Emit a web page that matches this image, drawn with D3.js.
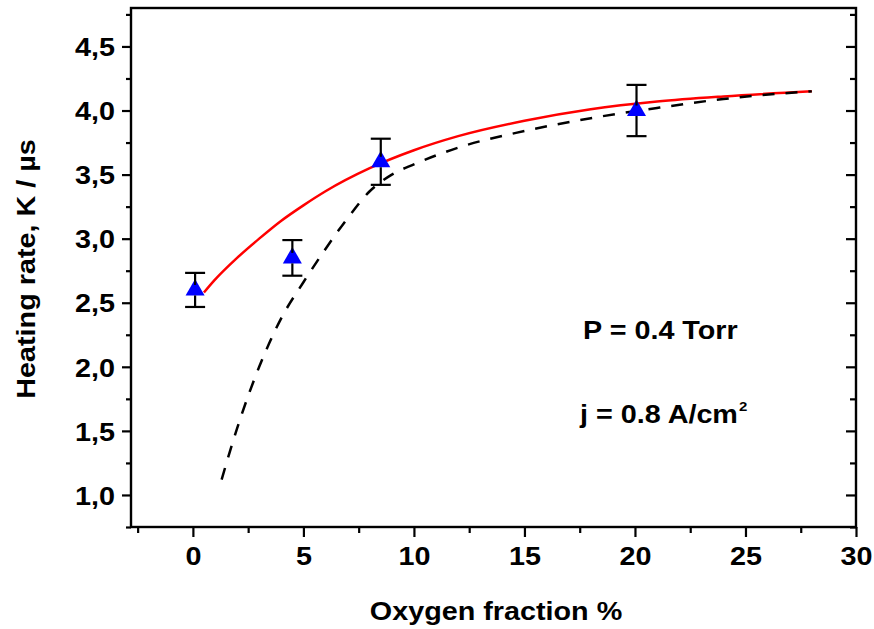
<!DOCTYPE html>
<html>
<head>
<meta charset="utf-8">
<script src="https://cdn.jsdelivr.net/npm/d3@7"></script>
<style>
  html, body { margin: 0; padding: 0; background: #fff; }
  svg { display: block; }
  text { font-family: Arial, "Liberation Sans", sans-serif; font-weight: bold; fill: #000; }
</style>
</head>
<body>
<svg id="chart" width="874" height="629"></svg>
<script>
// Measured heating rate vs oxygen fraction
const oxygenFraction = [0.1, 4.5, 8.5, 20.07];
const heatingRate    = [2.60, 2.85, 3.60, 4.00];
const heatingErr     = [0.133, 0.139, 0.18, 0.20];

// Model curve (solid red)
const modelX = [0.5, 1, 2, 3, 4, 5, 6, 8, 10, 12, 15, 18, 21, 24, 28];
const modelY = [2.58, 2.68, 2.85, 3.00, 3.14, 3.26, 3.37, 3.55, 3.69, 3.80, 3.92, 4.01, 4.07, 4.11, 4.15];

// Model curve (dashed black)
const model2X = [1.3, 2, 3, 4, 5, 6, 7, 8, 9, 10, 12, 15, 18, 21, 24, 28];
const model2Y = [1.12, 1.52, 2.00, 2.38, 2.66, 2.92, 3.16, 3.37, 3.50, 3.58, 3.71, 3.84, 3.94, 4.02, 4.09, 4.15];

const xTicks = [0, 5, 10, 15, 20, 25, 30];
const yTicks = [1.0, 1.5, 2.0, 2.5, 3.0, 3.5, 4.0, 4.5];
const xMinor = [-2.5, 2.5, 7.5, 12.5, 17.5, 22.5, 27.5];
const yMinor = [0.75, 1.25, 1.75, 2.25, 2.75, 3.25, 3.75, 4.25, 4.75];

const xTitle = "Oxygen fraction %";
const yTitle = "Heating rate, K / \u00b5s";
const note1 = "P = 0.4 Torr";
const note2 = "j = 0.8 A/cm";

const svg = d3.select("#chart");
const L = 131, R = 856, T = 8, B = 527;
const FS = 25, SX = 1.15;

const x = d3.scaleLinear().domain([-2.8, 30]).range([L, R]);
const y = d3.scaleLinear().domain([0.75, 4.8]).range([B, T]);
const fmt = d => d3.format(".1f")(d).replace(".", ",");

// frame
svg.append("rect")
  .attr("x", L).attr("y", T).attr("width", R - L).attr("height", B - T)
  .attr("fill", "none").attr("stroke", "#000").attr("stroke-width", 2.4);

// left axis, major ticks with labels
const gL = svg.append("g").attr("transform", `translate(${L},0)`)
  .call(d3.axisLeft(y).tickValues(yTicks).tickSize(9).tickFormat(fmt));
gL.select(".domain").remove();
gL.selectAll(".tick line").attr("stroke-width", 2.2);
gL.selectAll(".tick text")
  .attr("font-size", FS).attr("x", -16 / SX).attr("dy", "0.37em")
  .attr("transform", `scale(${SX},1)`);

// left minor ticks
svg.append("g").attr("transform", `translate(${L},0)`)
  .call(d3.axisLeft(y).tickValues(yMinor).tickSize(5).tickFormat(""))
  .call(g => g.select(".domain").remove())
  .selectAll(".tick line").attr("stroke-width", 2.2);

// right axis, inward ticks
svg.append("g").attr("transform", `translate(${R},0)`)
  .call(d3.axisLeft(y).tickValues(yTicks).tickSize(10).tickFormat(""))
  .call(g => g.select(".domain").remove())
  .selectAll(".tick line").attr("stroke-width", 2.2);
svg.append("g").attr("transform", `translate(${R},0)`)
  .call(d3.axisLeft(y).tickValues(yMinor).tickSize(6).tickFormat(""))
  .call(g => g.select(".domain").remove())
  .selectAll(".tick line").attr("stroke-width", 2.2);

// bottom axis
const gB = svg.append("g").attr("transform", `translate(0,${B})`)
  .call(d3.axisBottom(x).tickValues(xTicks).tickSize(10).tickFormat(d3.format("d")));
gB.select(".domain").remove();
gB.selectAll(".tick line").attr("stroke-width", 2.2);
gB.selectAll(".tick text")
  .attr("font-size", FS).attr("y", 38).attr("dy", 0)
  .attr("transform", `scale(${SX},1)`);

svg.append("g").attr("transform", `translate(0,${B})`)
  .call(d3.axisBottom(x).tickValues(xMinor).tickSize(6).tickFormat(""))
  .call(g => g.select(".domain").remove())
  .selectAll(".tick line").attr("stroke-width", 2.2);

// axis titles
svg.append("text")
  .attr("transform", `translate(496,620) scale(${SX},1)`)
  .attr("text-anchor", "middle").attr("font-size", FS)
  .text(xTitle);
svg.append("text")
  .attr("transform", `translate(35,269) rotate(-90) scale(${SX},1)`)
  .attr("text-anchor", "middle").attr("font-size", FS)
  .text(yTitle);

// curves
const line = d3.line().curve(d3.curveMonotoneX).x(d => x(d[0])).y(d => y(d[1]));
svg.append("path")
  .datum(d3.zip(modelX, modelY))
  .attr("d", line).attr("fill", "none")
  .attr("stroke", "#ff0000").attr("stroke-width", 2.5);
svg.append("path")
  .datum(d3.zip(model2X, model2Y))
  .attr("d", line).attr("fill", "none")
  .attr("stroke", "#000").attr("stroke-width", 2.5)
  .attr("stroke-dasharray", "12,11");

// data points
const pts = oxygenFraction.map((v, i) => ({ x: v, y: heatingRate[i], e: heatingErr[i] }));
const gp = svg.append("g");
gp.selectAll("path.sym").data(pts).join("path")
  .attr("class", "sym")
  .attr("transform", d => `translate(${x(d.x)},${y(d.y)})`)
  .attr("d", d3.symbol(d3.symbolTriangle, 157))
  .attr("fill", "#0000ff");

// error bars
const eb = gp.selectAll("g.err").data(pts).join("g").attr("class", "err")
  .attr("stroke", "#000").attr("stroke-width", 2.2);
eb.append("line")
  .attr("x1", d => x(d.x)).attr("x2", d => x(d.x))
  .attr("y1", d => y(d.y + d.e)).attr("y2", d => y(d.y) - 5);
eb.append("line")
  .attr("x1", d => x(d.x)).attr("x2", d => x(d.x))
  .attr("y1", d => y(d.y) + 5.5).attr("y2", d => y(d.y - d.e));
eb.append("line")
  .attr("x1", d => x(d.x) - 10).attr("x2", d => x(d.x) + 10)
  .attr("y1", d => y(d.y + d.e)).attr("y2", d => y(d.y + d.e));
eb.append("line")
  .attr("x1", d => x(d.x) - 10).attr("x2", d => x(d.x) + 10)
  .attr("y1", d => y(d.y - d.e)).attr("y2", d => y(d.y - d.e));

// annotations
svg.append("text")
  .attr("transform", `translate(583,339) scale(${SX},1)`)
  .attr("font-size", FS).text(note1);
const t2 = svg.append("text")
  .attr("transform", `translate(580,423) scale(${SX},1)`)
  .attr("font-size", FS).text(note2);
t2.append("tspan").attr("font-size", 13).attr("dx", 1).attr("dy", -12).text("2");
</script>
</body>
</html>
